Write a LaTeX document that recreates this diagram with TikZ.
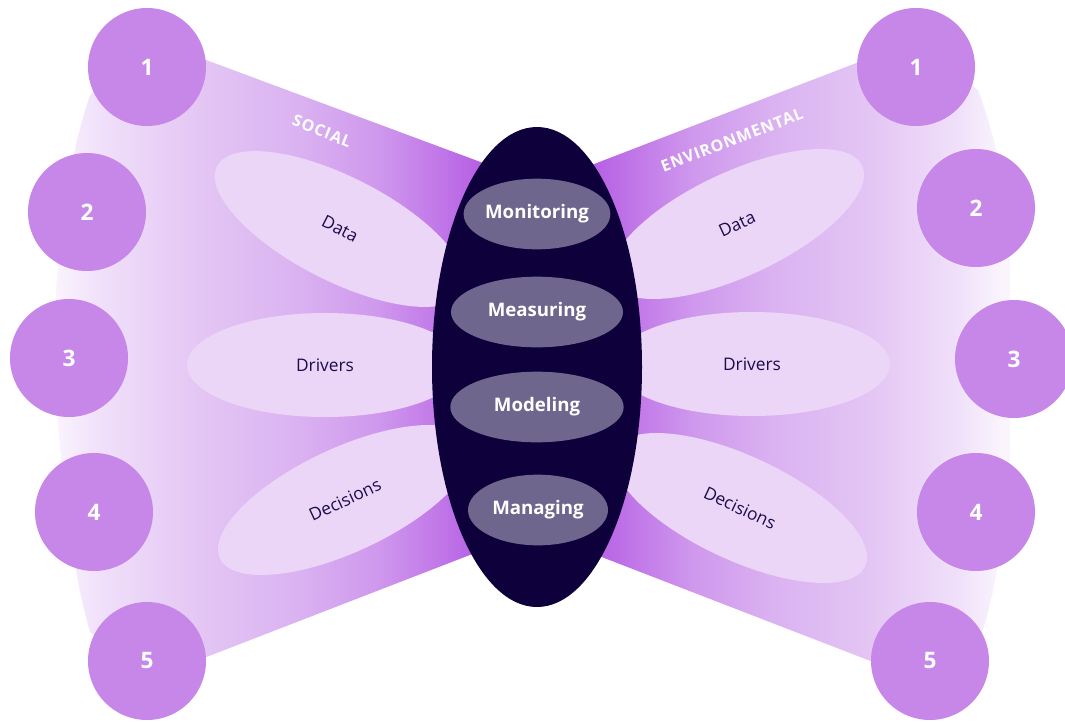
\documentclass[tikz,border=0pt]{standalone}
\usepackage{fontspec}
\setmainfont{Open Sans}
\newfontfamily\tagfont[LetterSpace=6]{Open Sans}
\usepackage{tikz}
\usetikzlibrary{shapes.geometric}
\definecolor{corenavy}{HTML}{0D003B}
\definecolor{pillgrey}{HTML}{6E668C}
\definecolor{petalpink}{HTML}{ECD6F8}
\definecolor{numpurple}{HTML}{C787E9}
\definecolor{inkblue}{HTML}{1B0C4B}
\definecolor{wingA}{HTML}{FAF4FD}
\definecolor{wingB}{HTML}{F0E0FA}
\definecolor{wingC}{HTML}{E4C6F4}
\definecolor{wingD}{HTML}{DAB2F1}
\definecolor{wingE}{HTML}{CF98ED}
\definecolor{wingF}{HTML}{C178E8}
\definecolor{wingG}{HTML}{B45BE3}
\definecolor{wingH}{HTML}{AA48DF}
\pgfdeclarehorizontalshading{socialwing}{100bp}{color(0bp)=(wingA); color(26.5bp)=(wingA);
  color(31bp)=(wingB); color(41bp)=(wingC); color(51bp)=(wingD); color(59bp)=(wingE);
  color(65bp)=(wingF); color(70bp)=(wingG); color(75bp)=(wingH); color(100bp)=(wingH)}
\pgfdeclarehorizontalshading{envwing}{100bp}{color(0bp)=(wingH); color(25bp)=(wingH);
  color(30bp)=(wingG); color(35.5bp)=(wingF); color(41.5bp)=(wingE); color(50bp)=(wingD);
  color(60.5bp)=(wingC); color(69.5bp)=(wingB); color(74bp)=(wingA); color(100bp)=(wingA)}
\tikzset{
  petal/.style={ellipse, fill=petalpink, minimum width=207pt, minimum height=78pt,
    inner sep=0pt, text=inkblue, font=\fontsize{13}{15}\selectfont},
  pill/.style={ellipse, fill=pillgrey, minimum height=53pt, inner sep=0pt,
    text=white, font=\fontsize{14}{16}\selectfont\bfseries},
  numdot/.style={circle, fill=numpurple, minimum size=88.5pt, inner sep=0pt,
    text=white, font=\fontsize{17}{19}\selectfont\bfseries},
  wingtag/.style={text=white, font=\tagfont\fontsize{12}{14}\selectfont\bfseries},
}
\begin{document}
\begin{tikzpicture}[x=0.75pt, y=-0.75pt]
\useasboundingbox (0,0) rectangle (1065,722);

% Social wing
\begin{scope}
  \clip (147,38) -- (537,183) -- (537,529) -- (147,680)
    -- plot[smooth] coordinates {(90,632) (76,570) (58,425) (56,290) (74,155) (90,95)} -- cycle;
  \shade[shading=socialwing] (40,0) rectangle (537,722);
\end{scope}

% Environmental wing
\begin{scope}
  \clip (916,40) -- (537,186) -- (537,532) -- (930,684)
    -- plot[smooth] coordinates {(982,633) (996,575) (1014,430) (1014,290) (997,155) (978,90)} -- cycle;
  \shade[shading=envwing] (537,0) rectangle (1010,722);
\end{scope}

\node[wingtag, rotate=-22] (social) at (322,131) {SOCIAL};
\node[wingtag, rotate=21] (environmental) at (732,140) {ENVIRONMENTAL};

% Petals
\node[petal, rotate=-27] (sdata) at (340,229) {Data};
\node[petal] (sdrivers) at (325,365) {Drivers};
\node[petal, rotate=25] (sdecisions) at (345,500) {Decisions};
\node[petal, rotate=25] (edata) at (737,224) {Data};
\node[petal] (edrivers) at (752,364) {Drivers};
\node[petal, rotate=-25] (edecisions) at (740,508) {Decisions};

% Core
\node[ellipse, fill=corenavy, minimum width=157.5pt, minimum height=360pt] (core) at (537,367) {};
\node[pill, minimum width=105pt] (monitoring) at (537,214) {Monitoring};
\node[pill, minimum width=129pt] (measuring) at (537,312) {Measuring};
\node[pill, minimum width=130pt] (modeling) at (537,407) {Modeling};
\node[pill, minimum width=105pt] (managing) at (538,510) {Managing};

% Numbered circles
\node[numdot] (s1) at (147,67) {1};
\node[numdot] (s2) at (87,212) {2};
\node[numdot] (s3) at (69,358) {3};
\node[numdot] (s4) at (94,512) {4};
\node[numdot] (s5) at (147,661) {5};
\node[numdot] (e1) at (916,67) {1};
\node[numdot] (e2) at (976,208) {2};
\node[numdot] (e3) at (1014,359) {3};
\node[numdot] (e4) at (976,512) {4};
\node[numdot] (e5) at (930,661) {5};
\end{tikzpicture}
\end{document}
